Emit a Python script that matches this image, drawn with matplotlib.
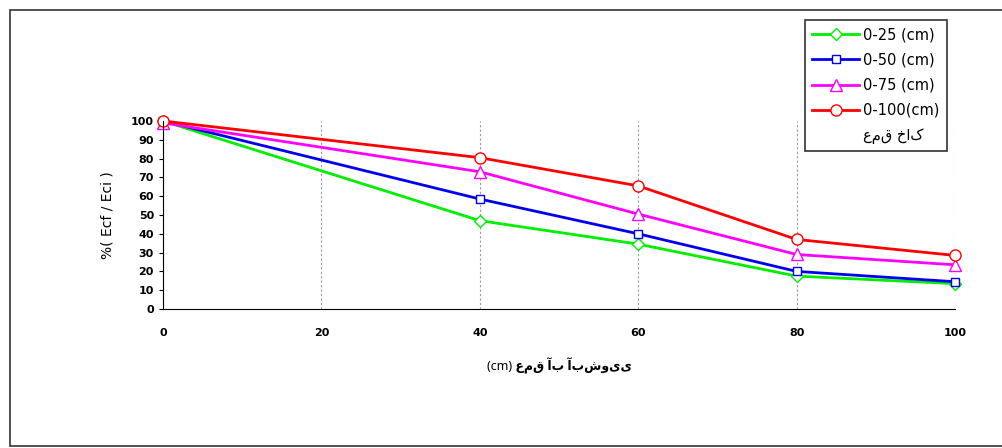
import matplotlib
matplotlib.use("Agg")
import matplotlib.pyplot as plt
from matplotlib.patches import Rectangle
from matplotlib.lines import Line2D

plt.rcParams['font.family'] = ['DejaVu Sans', 'Noto Sans']

x = [0, 40, 60, 80, 100]
s25 = [100, 47, 34.5, 17.5, 13.5]
s50 = [100, 58.5, 40, 20, 14.5]
s75 = [99, 73, 50.5, 29, 23.5]
s100 = [100, 80.5, 65.5, 37, 28.5]
labels = ['0-25 (cm)', '0-50 (cm)', '0-75 (cm)', '0-100(cm)']

fig = plt.figure(figsize=(10.03, 4.48), dpi=100)
fig.patches.append(Rectangle((10/1003, 0.005), 0.99, 1-10/448-0.005, transform=fig.transFigure,
                             fill=False, ec='#333333', lw=1.2))
ax = fig.add_axes([163/1003, 1-309/448, (955-163)/1003, (309-121)/448])
ax.plot(x, s25, color='#00ee00', marker='D', ms=6, mfc='white', lw=2, label=labels[0], clip_on=False)
ax.plot(x, s50, color='#0000ee', marker='s', ms=6, mfc='white', lw=2, label=labels[1], clip_on=False)
ax.plot(x, s75, color='#ff00ff', marker='^', ms=8, mfc='white', lw=2, label=labels[2], clip_on=False)
ax.plot(x, s100, color='#ff0000', marker='o', ms=8, mfc='white', lw=2, label=labels[3], clip_on=False)
ax.set_xlim(0, 100)
ax.set_ylim(0, 100)
ax.set_xticks([0, 20, 40, 60, 80, 100])
ax.set_yticks(range(0, 101, 10))
ax.tick_params(labelsize=8, length=3)
for t in ax.get_xticklabels() + ax.get_yticklabels():
    t.set_fontweight('bold')
ax.tick_params(axis='x', pad=14, length=0)
ax.grid(axis='x', color='#999999', ls=(0, (2, 2)), lw=0.8)
for s in ['top', 'right']:
    ax.spines[s].set_visible(False)
ax.set_ylabel('%( Ecf / Eci )', fontsize=10, labelpad=12)
ax.set_xlabel('(cm) عمق آب آبشویی', fontsize=9, fontweight='bold', labelpad=14,
              family=['Noto Sans', 'DejaVu Sans'])
h, l = ax.get_legend_handles_labels()
h.append(Line2D([], [], color='none'))
l.append('عمق خاک')
leg = fig.legend(h, l, loc='upper left', bbox_to_anchor=(805/1003, 1-20/448),
                 frameon=True, fancybox=False, edgecolor='black', handlelength=3.2,
                 borderaxespad=0, labelspacing=0.7, borderpad=0.5, handletextpad=0.3,
                 prop={'family': ['DejaVu Sans', 'Noto Sans'], 'size': 10.5})
leg.get_frame().set_linewidth(1.2)
fig.savefig('out.png', dpi=100)
